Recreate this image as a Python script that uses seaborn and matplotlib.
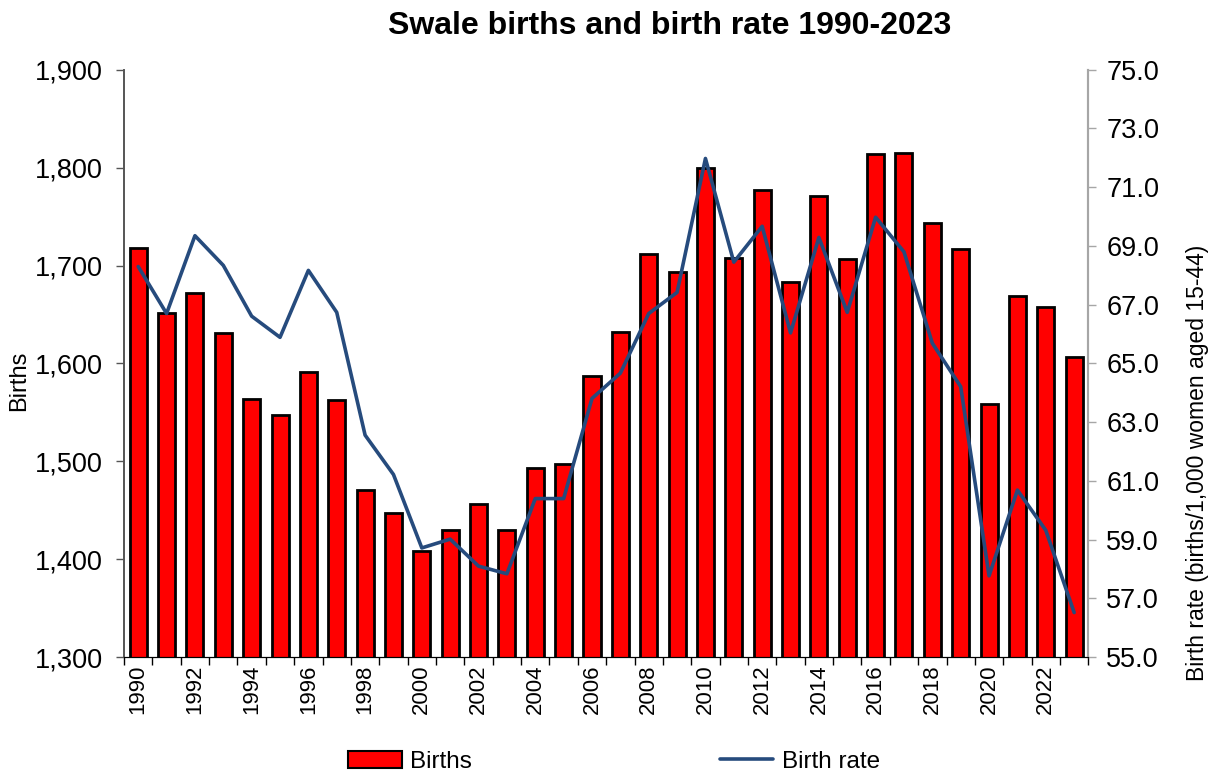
import numpy as np
import pandas as pd
import matplotlib
matplotlib.use('Agg')
import matplotlib.pyplot as plt
import seaborn as sns
from matplotlib.ticker import FuncFormatter, FixedLocator
from matplotlib.patches import Patch
from matplotlib.lines import Line2D

# data
years = list(range(1990, 2024))
births = [1718, 1652, 1672, 1631, 1564, 1547, 1591, 1563, 1471, 1447,
          1408, 1430, 1456, 1430, 1493, 1497, 1587, 1632, 1712, 1693,
          1800, 1708, 1777, 1683, 1771, 1707, 1814, 1815, 1743, 1717,
          1559, 1669, 1658, 1607]
birth_rate = [68.30, 66.70, 69.35, 68.34, 66.61, 65.89, 68.17, 66.74, 62.56, 61.22,
              58.72, 59.02, 58.10, 57.84, 60.40, 60.40, 63.81, 64.67, 66.70, 67.42,
              71.98, 68.45, 69.67, 66.04, 69.29, 66.74, 69.98, 68.80, 65.69, 64.21,
              57.77, 60.69, 59.32, 56.52]

df = pd.DataFrame({'year': years, 'births': births, 'rate': birth_rate})
df['pos'] = np.arange(len(df))

sns.set_style('white')
plt.rcParams['font.family'] = ['Liberation Sans', 'DejaVu Sans']
plt.rcParams['text.color'] = 'black'
plt.rcParams['axes.labelcolor'] = 'black'
plt.rcParams['xtick.color'] = 'black'
plt.rcParams['ytick.color'] = 'black'

bar_col = '#FF0000'
line_col = '#264B7D'

fig = plt.figure(figsize=(12.16, 7.75), dpi=100)
ax = fig.add_axes([0.102, 0.152, 0.793, 0.758])

sns.barplot(data=df, x='pos', y='births', color=bar_col, edgecolor='black',
            linewidth=2, width=0.6, saturation=1, ax=ax)
ax.set_ylim(1300, 1900)
ax.set_xlim(-0.5, len(years) - 0.5)
ax.set_yticks(range(1300, 1901, 100))
ax.yaxis.set_major_formatter(FuncFormatter(lambda v, p: f'{int(v):,}'))
ax.set_xlabel('')
ax.set_ylabel('Births', fontsize=17)
ax.yaxis.set_label_coords(-0.097, 0.47)

# labels every other year, tick marks between categories
ax.xaxis.set_major_locator(FixedLocator(list(range(0, len(years), 2))))
ax.set_xticklabels([str(y) for y in years[::2]], rotation=90, fontsize=16)
ax.xaxis.set_minor_locator(FixedLocator(np.arange(-0.5, len(years), 1)))
ax.tick_params(axis='x', which='major', length=0, pad=5)
ax.tick_params(axis='x', which='minor', length=6, width=1, color='black', direction='out', bottom=True)
ax.tick_params(axis='y', labelsize=19.5, length=6, width=1, color='#555555', direction='out', left=True, pad=9)

ax2 = ax.twinx()
sns.lineplot(data=df, x='pos', y='rate', color=line_col, linewidth=2.6, ax=ax2)
ax2.set_ylim(55, 75)
ax2.set_yticks(np.arange(55, 75.1, 2))
ax2.yaxis.set_major_formatter(FuncFormatter(lambda v, p: f'{v:.1f}'))
ax2.set_xlabel('')
ax2.set_ylabel('Birth rate (births/1,000 women aged 15-44)', fontsize=16.5)
ax2.yaxis.set_label_coords(1.101, 0.33)
ax2.tick_params(axis='y', labelsize=19.5, length=6, width=1, color='#A6A6A6', direction='out', right=True, pad=7)
ax2.set_xlim(-0.5, len(years) - 0.5)

for a in (ax, ax2):
    a.spines['top'].set_visible(False)
    a.spines['left'].set_color('#555555')
    a.spines['right'].set_color('#A6A6A6')
    a.spines['bottom'].set_color('black')
    a.spines['left'].set_linewidth(1.2)
    a.spines['right'].set_linewidth(1.5)

fig.text(0.551, 0.966, 'Swale births and birth rate 1990-2023', fontsize=23,
         fontweight='bold', ha='center', va='center')

handles = [Patch(facecolor=bar_col, edgecolor='black', linewidth=1.5),
           Line2D([0], [0], color=line_col, linewidth=2.6)]
fig.legend(handles, ['Births', 'Birth rate'], loc='center', ncol=2,
           bbox_to_anchor=(0.505, 0.017), frameon=False, fontsize=17.5,
           columnspacing=10.2, handlelength=2.2, handletextpad=0.35)

fig.savefig('out.png', dpi=100)
